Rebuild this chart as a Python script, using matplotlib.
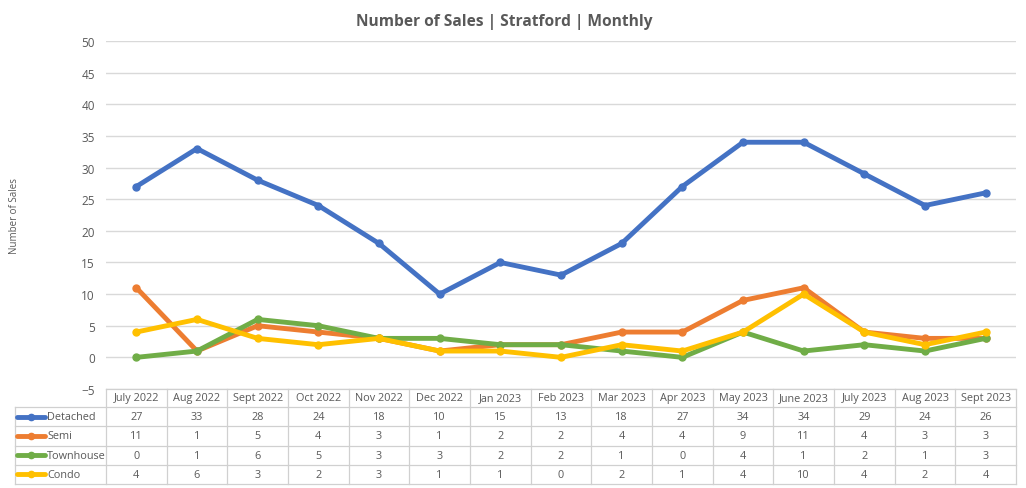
import matplotlib
matplotlib.use("Agg")
import matplotlib.pyplot as plt

months = ["July 2022", "Aug 2022", "Sept 2022", "Oct 2022", "Nov 2022", "Dec 2022",
          "Jan 2023", "Feb 2023", "Mar 2023", "Apr 2023", "May 2023", "June 2023",
          "July 2023", "Aug 2023", "Sept 2023"]
detached = [27, 33, 28, 24, 18, 10, 15, 13, 18, 27, 34, 34, 29, 24, 26]
semi = [11, 1, 5, 4, 3, 1, 2, 2, 4, 4, 9, 11, 4, 3, 3]
townhouse = [0, 1, 6, 5, 3, 3, 2, 2, 1, 0, 4, 1, 2, 1, 3]
condo = [4, 6, 3, 2, 3, 1, 1, 0, 2, 1, 4, 10, 4, 2, 4]
series_names = ["Detached", "Semi", "Townhouse", "Condo"]
series_vals = [detached, semi, townhouse, condo]
colors = ["#4472C4", "#ED7D31", "#70AD47", "#FFC000"]
yticks = list(range(-5, 51, 5))

plt.rcParams['font.family'] = ['Open Sans', 'DejaVu Sans']
W, H = 1026, 489
fig = plt.figure(figsize=(W / 100, H / 100), dpi=100)
txt = "#595959"
grid = "#D9D9D9"

# main axes: x 106..1016, y 42..390 px
ax = fig.add_axes([106 / W, 1 - 390 / H, (1016 - 106) / W, (390 - 42) / H])
x = list(range(len(months)))
for name, vals, c in zip(series_names, series_vals, colors):
    ax.plot(x, vals, color=c, lw=3.5, marker="o", ms=5, solid_capstyle="round",
            solid_joinstyle="round", zorder=3)
ax.set_xlim(-0.5, len(months) - 0.5)
ax.set_ylim(-5, 50)
ax.set_yticks(yticks)
ax.set_xticks([])
for s in ax.spines.values():
    s.set_visible(False)
ax.yaxis.grid(True, color=grid, lw=1)
ax.set_axisbelow(True)
ax.tick_params(axis="y", length=0, labelsize=8.5, labelcolor=txt, pad=8)
fig.text(15 / W, 1 - 216 / H, "Number of Sales", rotation=90, ha="center", va="center",
         fontsize=7, color=txt)
fig.text(504 / W, 1 - 22 / H, "Number of Sales | Stratford | Monthly", ha="center",
         va="center", fontsize=11.2, fontweight="bold", color=txt)

# table axes: x 15..1016, y 390..485
tab = fig.add_axes([15 / W, 1 - 485 / H, (1016 - 15) / W, (485 - 390) / H])
left = -0.5 - 91 / (910 / 15)
tab.set_xlim(left, len(months) - 0.5)
row_edges = [0, 18, 37.3, 56.6, 75.9, 95]
tab.set_ylim(95, 0)
tab.axis("off")
lc = "#D0D0D0"
tab.plot([-0.5, len(months) - 0.5], [0, 0], color=lc, lw=0.9, clip_on=False)
for yv in row_edges[1:]:
    tab.plot([left, len(months) - 0.5], [yv, yv], color=lc, lw=0.9, clip_on=False)
tab.plot([left, left], [row_edges[1], row_edges[-1]], color=lc, lw=0.9, clip_on=False)
for i in range(len(months) + 1):
    tab.plot([i - 0.5, i - 0.5], [0, row_edges[-1]], color=lc, lw=0.9, clip_on=False)
fs = 7.8
for i, m in enumerate(months):
    tab.text(i, (row_edges[0] + row_edges[1]) / 2, m, ha="center", va="center",
             fontsize=fs, color=txt)
unit = 910 / 15
for r, (name, vals, c) in enumerate(zip(series_names, series_vals, colors)):
    yc = (row_edges[r + 1] + row_edges[r + 2]) / 2
    x0 = left + 2 / unit
    x1 = left + 30 / unit
    tab.plot([x0, x1], [yc, yc], color=c, lw=3.5, solid_capstyle="round")
    tab.plot([(x0 + x1) / 2], [yc], color=c, marker="o", ms=4.5)
    tab.text(left + 32 / unit, yc, name, ha="left", va="center", fontsize=fs, color=txt)
    for i, v in enumerate(vals):
        tab.text(i, yc, str(v), ha="center", va="center", fontsize=fs, color=txt)

fig.savefig("out.png", dpi=100, facecolor="white")
